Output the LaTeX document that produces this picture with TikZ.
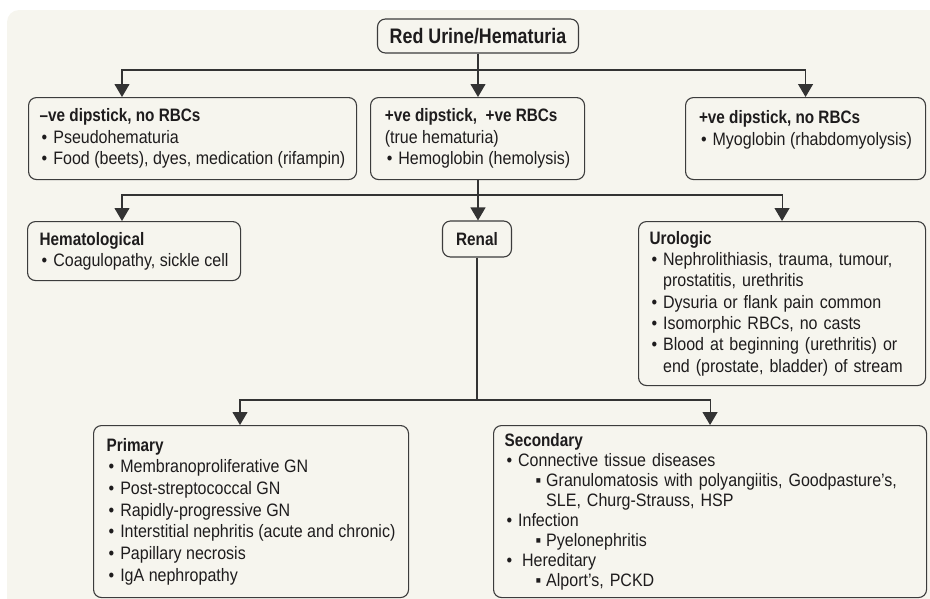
\documentclass[tikz,border=0pt]{standalone}
\usepackage{fontspec}
\setmainfont{Liberation Sans}[FakeStretch=0.89,BoldFeatures={FakeStretch=0.85}]
\usetikzlibrary{arrows.meta}
\definecolor{bgcream}{HTML}{F6F5EE}
\definecolor{boxborder}{HTML}{3C3C3C}
\definecolor{darkline}{HTML}{333333}
\definecolor{inktext}{HTML}{1E1C1D}
\tikzset{
  card/.style={rectangle, rounded corners=8pt, draw=boxborder, fill=bgcream, line width=1.1pt, text=inktext, align=left, anchor=north west, inner ysep=0pt, font=\fontsize{18}{21.3}\selectfont},
  headcard/.style={card, anchor=center, align=center, inner sep=3pt, font=\fontsize{21}{24}\selectfont\bfseries},
  renalcard/.style={card, anchor=center, align=center, inner sep=3pt, font=\fontsize{18}{21}\selectfont\bfseries},
  flow/.style={-{Triangle[length=13pt,width=15pt]}, line width=1.1pt, draw=darkline},
  joint/.style={line width=1.1pt, draw=darkline}
}
\newcommand{\bul}{\hspace*{2pt}•\hspace{6pt}}
\newcommand{\subbullet}{\hspace*{31pt}▪\hspace{5pt}}

\begin{document}
\begin{tikzpicture}[x=1pt,y=-1pt]
\useasboundingbox (0,0) rectangle (930,598);
\fill[bgcream, rounded corners=12pt] (7,10) rectangle (950,620);

\node[headcard, minimum width=201pt, minimum height=34pt] (redurine) at (478,36) {Red Urine/Hematuria};

\node[card, minimum width=328pt, minimum height=82pt] (negdip) at (28,97)
  {\textbf{–ve dipstick, no RBCs}\\ \bul Pseudohematuria\\ \bul Food (beets), dyes, medication (rifampin)};
\node[card, minimum width=214pt, minimum height=82pt] (posdip) at (370,97)
  {\textbf{+ve dipstick, \ +ve RBCs}\\ (true hematuria)\\ \bul Hemoglobin (hemolysis)};
\node[card, minimum width=240pt, minimum height=82pt] (myodip) at (685,97)
  {\textbf{+ve dipstick, no RBCs}\\ \bul Myoglobin (rhabdomyolysis)\\ \mbox{}};

\node[card, minimum width=213pt, minimum height=59pt] (hemat) at (27,221)
  {\textbf{Hematological}\\ \bul Coagulopathy, sickle cell};
\node[renalcard, minimum width=69pt, minimum height=36pt] (renal) at (477,239) {Renal};
\node[card, text width=265pt, inner xsep=11pt, minimum height=164pt] (uro) at (638,221)
  {\textbf{Urologic}\\ \bul Nephrolithiasis, trauma, tumour,\\ \phantom{\bul}prostatitis, urethritis\\
   \bul Dysuria or flank pain common\\ \bul Isomorphic RBCs, no casts\\
   \bul Blood at beginning (urethritis) or\\ \phantom{\bul}end (prostate, bladder) of stream};

\node[card, minimum width=315pt, minimum height=172pt, font=\fontsize{18}{21.7}\selectfont] (primary) at (93,425)
  {\textbf{Primary}\\ \bul Membranoproliferative GN\\ \bul Post-streptococcal GN\\ \bul Rapidly-progressive GN\\
   \bul Interstitial nephritis (acute and chronic)\\ \bul Papillary necrosis\\ \bul IgA nephropathy};
\node[card, text width=411pt, inner xsep=11pt, minimum height=172pt, font=\fontsize{18}{20}\selectfont] (secondary) at (493,425)
  {\textbf{Secondary}\\ \bul Connective tissue diseases\\ \subbullet Granulomatosis with polyangiitis, Goodpasture’s,\\
   \phantom{\subbullet}SLE, Churg-Strauss, HSP\\ \bul Infection\\ \subbullet Pyelonephritis\\
   \bul\hspace{4pt}Hereditary\\ \subbullet Alport’s, PCKD};

% branch points
\coordinate (split1) at (478,70);
\coordinate (split2) at (478,195);
\coordinate (split3) at (477,400);
\coordinate (negin) at (122,97);
\coordinate (hematin) at (122,221);
\coordinate (primin) at (240,425);

\draw[joint] (redurine) -- (split1);
\draw[flow] (split1) -| (negin);
\draw[flow] (split1) -- (split1 |- posdip.north);
\draw[flow] (split1) -| (myodip.north);

\draw[joint] (posdip.south -| split2) -- (split2);
\draw[flow] (split2) -| (hematin);
\draw[flow] (split2) -- (split2 |- renal.north);
\draw[flow] (split2) -| (uro.north);

\draw[joint] (renal) -- (split3);
\draw[flow] (split3) -| (primin);
\draw[flow] (split3) -| (secondary.north);

\end{tikzpicture}
\end{document}
